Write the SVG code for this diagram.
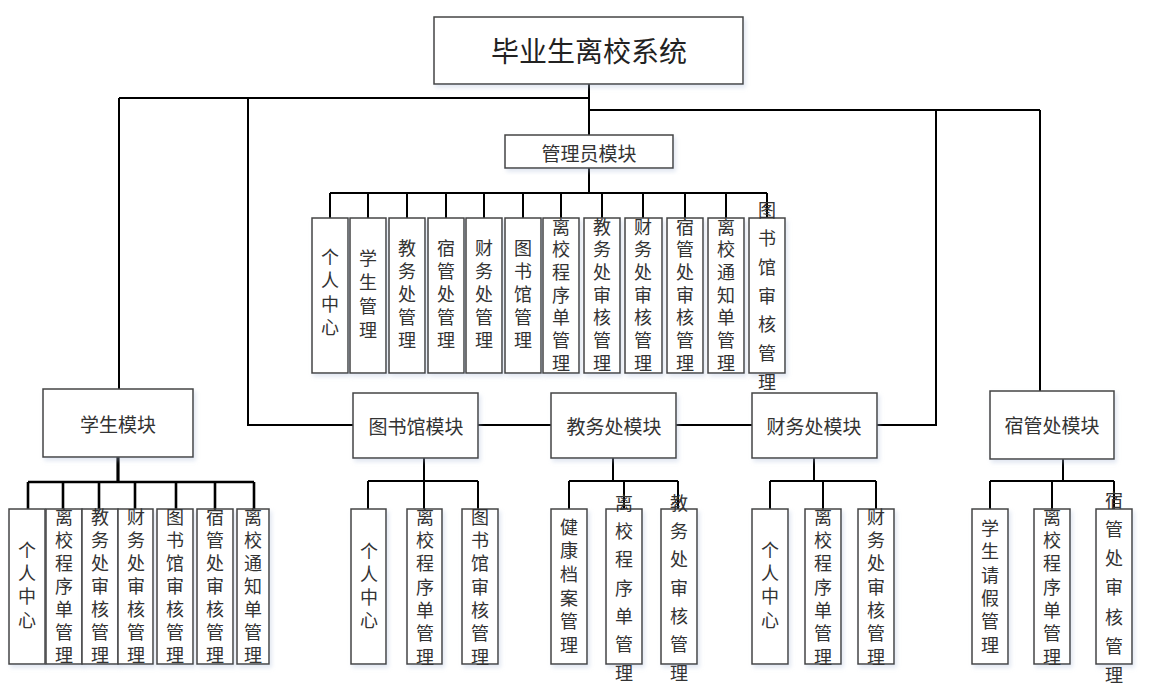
<svg xmlns="http://www.w3.org/2000/svg" width="1154" height="699" viewBox="0 0 1154 699">
<defs>
<filter id="sh" x="-10%" y="-10%" width="130%" height="130%">
<feDropShadow dx="2" dy="3" stdDeviation="2" flood-color="#a8b8d8" flood-opacity="0.35"/>
</filter>
</defs>
<style>
.box{fill:#fff;stroke:#444;stroke-width:1.5;filter:url(#sh)}
.ln{fill:none;stroke:#000;stroke-width:2}
.thick{fill:none;stroke:#000;stroke-width:3.2}
.t{font-family:"Noto Sans CJK SC","Noto Sans",sans-serif;font-size:18px;fill:#333;text-anchor:middle;dominant-baseline:central}
.v{writing-mode:vertical-rl;letter-spacing:5px}
.m{font-size:19px}
.title{font-size:28px;fill:#222}
</style>
<rect width="1154" height="699" fill="#fff"/>
<g id="connectors">
<path class="ln" d="M589 84V135M119 98H589M589 110H1040M119 98V389M248 98V425H353M936 110V425H877M1040 110V391M478 425H551M676 425H752"/>
<path class="ln" d="M589 168V193M330 193H767M330 193V218M368 193V218M407 193V218M446 193V218M484 193V218M523 193V218M561 193V218M602 193V218M643 193V218M685 193V218M726 193V218M767 193V218"/>
<path class="thick" d="M118 457V482"/>
<path class="ln" style="stroke-width:2.6" d="M28 482H254M28 482V509M63 482V509M99 482V509M135 482V509M176 482V509M215 482V509M254 482V509"/>
<path class="ln" d="M424 458V481M368 481H478M368 481V509M424 481V509M478 481V509"/>
<path class="ln" d="M613 458V481M569 481H678M569 481V509M624 481V509M678 481V509"/>
<path class="ln" d="M814 458V481M770 481H876M770 481V509M823 481V509M876 481V509"/>
<path class="ln" d="M1063 459V481M990 481H1114M990 481V509M1052 481V509M1114 481V509"/>
</g>
<g id="root"><rect class="box" x="434" y="17" width="309" height="67"/><text class="t title" x="589" y="50">毕业生离校系统</text></g>
<g id="admin"><rect class="box" x="505" y="135" width="168" height="33"/><text class="t m" x="589" y="152">管理员模块</text></g>
<g id="student"><rect class="box" x="43" y="389" width="150" height="68"/><text class="t m" x="118" y="423">学生模块</text></g>
<g id="library"><rect class="box" x="353" y="393" width="125" height="65"/><text class="t m" x="416" y="425">图书馆模块</text></g>
<g id="academic"><rect class="box" x="551" y="393" width="125" height="65"/><text class="t m" x="614" y="425">教务处模块</text></g>
<g id="finance"><rect class="box" x="752" y="393" width="125" height="65"/><text class="t m" x="814" y="425">财务处模块</text></g>
<g id="dorm"><rect class="box" x="990" y="391" width="124" height="68"/><text class="t m" x="1052" y="424">宿管处模块</text></g>

<g id="a1"><rect class="box" x="312" y="218" width="36" height="155"/><text class="t v" x="330" y="295" style="letter-spacing:5.5px">个人中心</text></g>
<g id="a2"><rect class="box" x="350" y="218" width="36" height="155"/><text class="t v" x="368" y="297" style="letter-spacing:6px">学生管理</text></g>
<g id="a3"><rect class="box" x="389" y="218" width="36" height="155"/><text class="t v" x="407" y="296.5">教务处管理</text></g>
<g id="a4"><rect class="box" x="428" y="218" width="36" height="155"/><text class="t v" x="446" y="296.5">宿管处管理</text></g>
<g id="a5"><rect class="box" x="466" y="218" width="36" height="155"/><text class="t v" x="484" y="296.5">财务处管理</text></g>
<g id="a6"><rect class="box" x="505" y="218" width="36" height="155"/><text class="t v" x="523" y="296.5">图书馆管理</text></g>
<g id="a7"><rect class="box" x="543" y="218" width="36" height="155"/><text class="t v" x="561" y="297.3" style="letter-spacing:4.7px">离校程序单管理</text></g>
<g id="a8"><rect class="box" x="584" y="218" width="36" height="155"/><text class="t v" x="602" y="297.3" style="letter-spacing:4.7px">教务处审核管理</text></g>
<g id="a9"><rect class="box" x="625" y="218" width="37" height="155"/><text class="t v" x="643" y="297.3" style="letter-spacing:4.7px">财务处审核管理</text></g>
<g id="a10"><rect class="box" x="667" y="218" width="36" height="155"/><text class="t v" x="685" y="297.3" style="letter-spacing:4.7px">宿管处审核管理</text></g>
<g id="a11"><rect class="box" x="708" y="218" width="36" height="155"/><text class="t v" x="726" y="297.3" style="letter-spacing:4.7px">离校通知单管理</text></g>
<g id="a12"><rect class="box" x="749" y="218" width="36" height="155"/><text class="t v" x="767" y="301.3" style="letter-spacing:10.7px">图书馆审核管理</text></g>

<g id="s1"><rect class="box" x="9" y="509" width="36" height="155"/><text class="t v" x="27" y="587.6" style="letter-spacing:5.3px">个人中心</text></g>
<g id="s2"><rect class="box" x="46" y="509" width="36" height="155"/><text class="t v" x="64" y="588.5">离校程序单管理</text></g>
<g id="s3"><rect class="box" x="82" y="509" width="36" height="155"/><text class="t v" x="100" y="588.5">教务处审核管理</text></g>
<g id="s4"><rect class="box" x="118" y="509" width="35" height="155"/><text class="t v" x="136" y="588.5">财务处审核管理</text></g>
<g id="s5"><rect class="box" x="157" y="509" width="36" height="155"/><text class="t v" x="175" y="588.5">图书馆审核管理</text></g>
<g id="s6"><rect class="box" x="197" y="509" width="36" height="155"/><text class="t v" x="215" y="588.5">宿管处审核管理</text></g>
<g id="s7"><rect class="box" x="237" y="509" width="32" height="155"/><text class="t v" x="253" y="588.5">离校通知单管理</text></g>

<g id="l1"><rect class="box" x="351" y="509" width="35" height="155"/><text class="t v" x="369" y="588">个人中心</text></g>
<g id="l2"><rect class="box" x="407" y="509" width="35" height="155"/><text class="t v" x="425" y="589.6" style="letter-spacing:5.3px">离校程序单管理</text></g>
<g id="l3"><rect class="box" x="462" y="509" width="36" height="155"/><text class="t v" x="480" y="589.6" style="letter-spacing:5.3px">图书馆审核管理</text></g>

<g id="e1"><rect class="box" x="551" y="509" width="36" height="155"/><text class="t v" x="569" y="588.8" style="letter-spacing:5.6px">健康档案管理</text></g>
<g id="e2"><rect class="box" x="606" y="509" width="36" height="155"/><text class="t v" x="624" y="593.1" style="letter-spacing:10.3px">离校程序单管理</text></g>
<g id="e3"><rect class="box" x="661" y="509" width="36" height="155"/><text class="t v" x="679" y="593.1" style="letter-spacing:10.3px">教务处审核管理</text></g>

<g id="f1"><rect class="box" x="752" y="509" width="36" height="155"/><text class="t v" x="770" y="587.6" style="letter-spacing:5.3px">个人中心</text></g>
<g id="f2"><rect class="box" x="805" y="509" width="36" height="155"/><text class="t v" x="823" y="589.6" style="letter-spacing:5.3px">离校程序单管理</text></g>
<g id="f3"><rect class="box" x="858" y="509" width="36" height="155"/><text class="t v" x="876" y="589.6" style="letter-spacing:5.3px">财务处审核管理</text></g>

<g id="d1"><rect class="box" x="972" y="509" width="36" height="155"/><text class="t v" x="990" y="589.2" style="letter-spacing:5.4px">学生请假管理</text></g>
<g id="d2"><rect class="box" x="1034" y="509" width="36" height="155"/><text class="t v" x="1052" y="589.6" style="letter-spacing:5.3px">离校程序单管理</text></g>
<g id="d3"><rect class="box" x="1096" y="509" width="36" height="155"/><text class="t v" x="1114" y="593.1" style="letter-spacing:11.2px">宿管处审核管理</text></g>
</svg>
